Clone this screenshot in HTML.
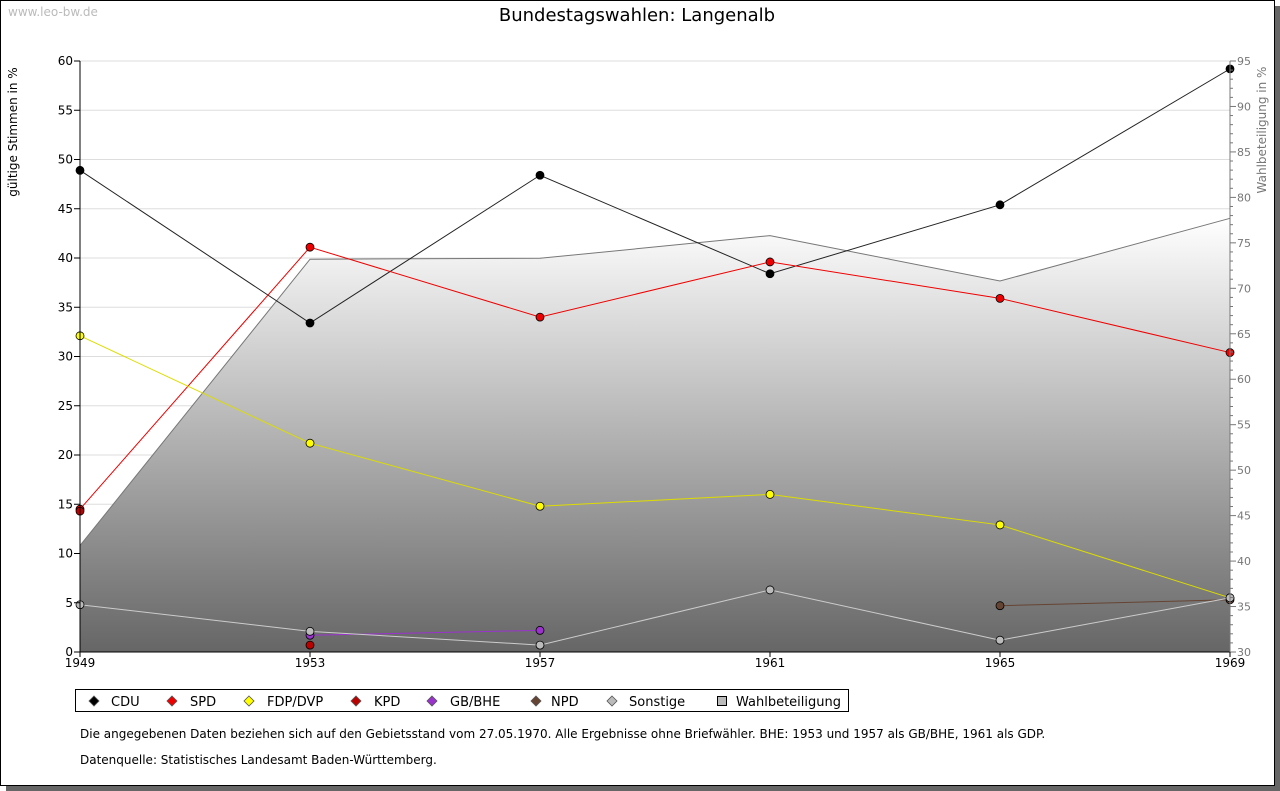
<!DOCTYPE html>
<html><head><meta charset="utf-8"><style>
body{margin:0;background:#fff;font-family:"DejaVu Sans","Liberation Sans",sans-serif;}
</style></head><body>
<svg id="c" width="1280" height="791" xmlns="http://www.w3.org/2000/svg" style="display:block">
<defs><linearGradient id="g" x1="0" y1="0" x2="0" y2="1"><stop offset="0" stop-color="#ffffff"/><stop offset="1" stop-color="#666666"/></linearGradient></defs>
<rect x="6" y="6" width="1274" height="785" fill="#666"/>
<rect x="0.5" y="0.5" width="1274" height="785" fill="#fff" stroke="#000"/>
<text x="8" y="16" font-size="12" fill="#bbb">www.leo-bw.de</text>
<text x="637" y="21" font-size="18" text-anchor="middle">Bundestagswahlen: Langenalb</text>
<text transform="translate(17,132) rotate(-90)" font-size="12" text-anchor="middle">gültige Stimmen in %</text>
<text transform="translate(1266,130) rotate(-90)" font-size="12" text-anchor="middle" fill="#777">Wahlbeteiligung in %</text>
<g id="grid"></g><g id="area"></g><g id="lines"></g><g id="axes"></g>
<rect x="75.5" y="689.5" width="773" height="22" fill="#fff" stroke="#000"/>
<g id="legend"></g>
<text x="80" y="738" font-size="12">Die angegebenen Daten beziehen sich auf den Gebietsstand vom 27.05.1970. Alle Ergebnisse ohne Briefwähler. BHE: 1953 und 1957 als GB/BHE, 1961 als GDP.</text>
<text x="80" y="764" font-size="12">Datenquelle: Statistisches Landesamt Baden-Württemberg.</text>
</svg>
<script>
const years=["1949","1953","1957","1961","1965","1969"];
const cdu=[48.9,33.4,48.4,38.4,45.4,59.2];
const spd=[14.5,41.1,34.0,39.6,35.9,30.4];
const fdp=[32.1,21.2,14.8,16.0,12.9,5.5];
const kpd=[14.3,0.7,null,null,null,null];
const bhe=[null,1.7,2.2,null,null,null];
const npd=[null,null,null,null,4.7,5.3];
const sonst=[4.8,2.1,0.7,6.3,1.2,5.5];
const turnout=[41.7,73.2,73.3,75.8,70.8,77.7];
const leftTicks=[0,5,10,15,20,25,30,35,40,45,50,55,60];
const rightTicks=[30,35,40,45,50,55,60,65,70,75,80,85,90,95];
const NS="http://www.w3.org/2000/svg";
const X0=80,X1=1230,Y0=652,Y1=61;
const x=i=>X0+(X1-X0)*i/(years.length-1);
const y=v=>Y0-(Y0-Y1)*v/60;
const y2=v=>Y0-(Y0-Y1)*(v-30)/65;
function mk(tag,attrs,parent){const e=document.createElementNS(NS,tag);for(const k in attrs)e.setAttribute(k,attrs[k]);document.getElementById(parent).appendChild(e);return e;}
leftTicks.forEach(t=>{
 if(t>0){const l=mk('line',{x1:X0,x2:X1,y1:y(t),y2:y(t),stroke:'#ddd'},'grid');}
 const tk=mk('line',{x1:X0-6,x2:X0,y1:y(t),y2:y(t),stroke:'#000'},'axes');
 const tx=mk('text',{x:X0-7,y:y(t)+4,'font-size':12,'text-anchor':'end'},'axes');tx.textContent=t;
});
for(let v=30;v<=95;v++){const maj=v%5===0;const tk=mk('line',{x1:X1,x2:X1+(maj?6:3),y1:y2(v),y2:y2(v),stroke:'#777'},'axes');}
rightTicks.forEach(t=>{const tx=mk('text',{x:X1+7,y:y2(t)+4,'font-size':11,fill:'#777'},'axes');tx.textContent=t;});
years.forEach((yr,i)=>{const tk=mk('line',{x1:x(i),x2:x(i),y1:Y0,y2:Y0+5,stroke:'#000'},'axes');
 const tx=mk('text',{x:x(i),y:Y0+15,'font-size':12,'text-anchor':'middle'},'axes');tx.textContent=yr;});
let d='M'+x(0)+','+Y0;turnout.forEach((v,i)=>d+=' L'+x(i)+','+y2(v));d+=' L'+x(years.length-1)+','+Y0+'Z';
const ar=mk('path',{d:d,fill:'url(#g)'},'area');
const tl=mk('polyline',{points:turnout.map((v,i)=>x(i)+','+y2(v)).join(' '),fill:'none',stroke:'#777'},'area');
const ax=mk('path',{d:`M${X0},${Y1} V${Y0} H${X1}`,fill:'none',stroke:'#000'},'axes');
const ax2=mk('line',{x1:X1,x2:X1,y1:Y1,y2:Y0,stroke:'#777'},'axes');
const series=[["CDU",cdu,"#000","#222",true],["SPD",spd,"#e00","#e00",true],["FDP/DVP",fdp,"#ff0","#dd0",true],["KPD",kpd,"#b00","#b00",false],["GB/BHE",bhe,"#93c","#93c",true],["NPD",npd,"#643","#643",true],["Sonstige",sonst,"#bbb","#ccc",true]];
series.forEach(([n,vals,fc,lc,line])=>{
 if(line){let segs=[],cur=[];vals.forEach((v,i)=>{if(v==null){if(cur.length)segs.push(cur);cur=[];}else cur.push(x(i)+','+y(v));});if(cur.length)segs.push(cur);
  segs.forEach(s=>{if(s.length>1){const p=mk('polyline',{points:s.join(' '),fill:'none',stroke:lc},'lines');}});}
 vals.forEach((v,i)=>{if(v==null)return;const c=mk('circle',{cx:x(i),cy:y(v),r:4,fill:fc,stroke:'#000','stroke-width':0.8},'lines');});
});
const leg=[["CDU","#000",94,111],["SPD","#e00",172,190],["FDP/DVP","#ff0",249,267],["KPD","#b00",356,374],["GB/BHE","#93c",432,450],["NPD","#643",536,551],["Sonstige","#bbb",612,629],["Wahlbeteiligung","#bbb",722,736]];
leg.forEach(([n,c,cx,tx],i)=>{let m;
 if(i===7){m=mk('rect',{x:cx-4.5,y:696.5,width:9,height:9,fill:c,stroke:'#000'},'legend');}
 else m=mk('polygon',{points:`${cx},${696} ${cx+5},${701} ${cx},${706} ${cx-5},${701}`,fill:c,stroke:'#555','stroke-width':0.8},'legend');
 
 const t=mk('text',{x:tx,y:706,'font-size':13},'legend');t.textContent=n;
});
</script>
</body></html>
